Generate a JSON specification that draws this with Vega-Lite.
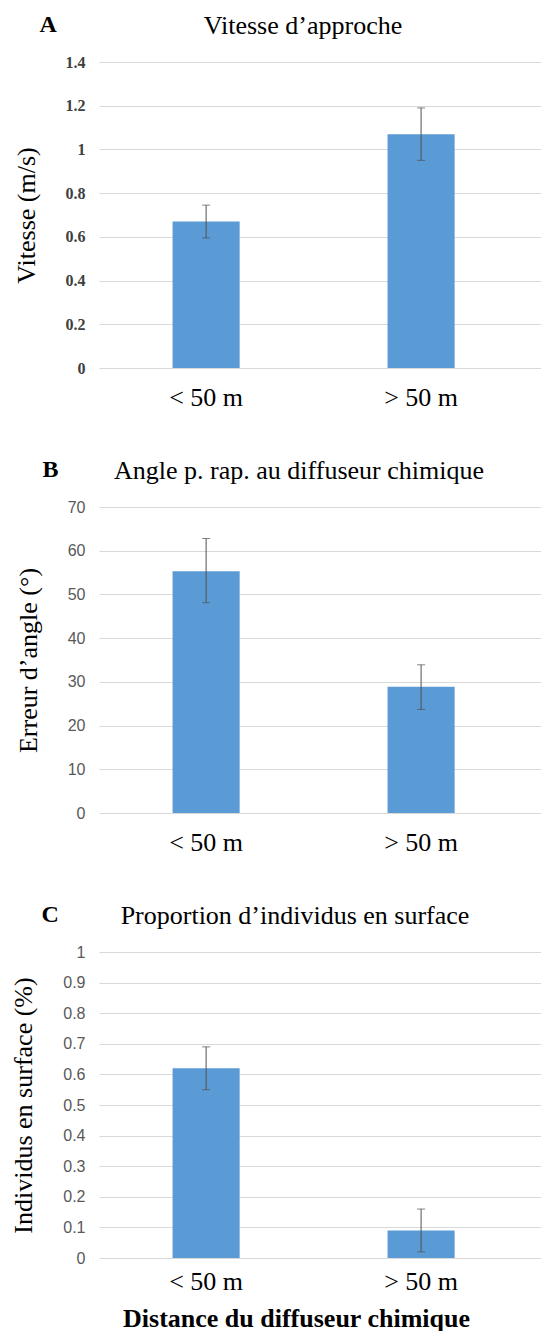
{
  "$schema": "https://vega.github.io/schema/vega-lite/v6.json",
  "padding": {"left": 10, "top": 12, "right": 0, "bottom": 0},
  "spacing": 47,
  "config": {
    "view": {"stroke": null},
    "axis": {"gridColor": "#d9d9d9", "gridWidth": 1, "domain": false, "ticks": false},
    "title": {"font": "Liberation Serif", "fontSize": 26, "fontWeight": "normal", "color": "#000", "anchor": "middle", "frame": "group", "baseline": "alphabetic", "offset": -27}
  },
  "vconcat": [
    {
      "title": {"text": "Vitesse d’approche", "dx": -17},
      "width": 442,
      "height": 306,
      "data": {"values": [
        {"cat": "< 50 m", "value": 0.67, "lo": 0.595, "hi": 0.745},
        {"cat": "> 50 m", "value": 1.07, "lo": 0.95, "hi": 1.19}
      ]},
      "resolve": {"axis": {"x": "independent"}},
      "layer": [
        {"mark": {"type": "bar", "color": "#5b9bd5"},
         "encoding": {
           "x": {"field": "cat", "type": "nominal", "sort": null,
                 "scale": {"paddingInner": 0.688, "paddingOuter": 0.372, "align": 0.46},
                 "axis": {"orient": "bottom", "title": null, "labelAngle": 0, "labelFont": "Liberation Serif", "labelFontSize": 26, "labelColor": "#000", "labelPadding": 16}},
           "y": {"field": "value", "type": "quantitative", "scale": {"domain": [0, 1.4]},
             "axis": {"title": "Vitesse (m/s)", "values": [0, 0.2, 0.4, 0.6, 0.8, 1, 1.2, 1.4], "format": "~g", "labelOverlap": false,
                      "labelFont": "Liberation Serif", "labelFontSize": 16, "labelFontWeight": "bold", "labelColor": "#404040", "labelPadding": 14,
                      "titleFont": "Liberation Serif", "titleFontSize": 26, "titleFontWeight": "normal", "titleColor": "#000", "titlePadding": 26}}}},
        {"mark": {"type": "rule", "color": "#505050", "strokeWidth": 1},
         "encoding": {
           "x": {"field": "cat", "type": "nominal", "sort": null,
                 "axis": {"orient": "top", "title": "A", "labels": false, "grid": false, "titleAnchor": "start", "titleAlign": "left", "titleBaseline": "alphabetic", "titleX": -60, "titleY": -31,
                          "titleFont": "Liberation Serif", "titleFontSize": 24, "titleFontWeight": "bold", "titleColor": "#000"}},
           "y": {"field": "lo", "type": "quantitative",
             "axis": {"title": "Vitesse (m/s)", "values": [0, 0.2, 0.4, 0.6, 0.8, 1, 1.2, 1.4], "format": "~g", "labelOverlap": false,
                      "labelFont": "Liberation Serif", "labelFontSize": 16, "labelFontWeight": "bold", "labelColor": "#404040", "labelPadding": 14,
                      "titleFont": "Liberation Serif", "titleFontSize": 26, "titleFontWeight": "normal", "titleColor": "#000", "titlePadding": 26}},
           "y2": {"field": "hi"}}},
        {"mark": {"type": "tick", "color": "#505050", "thickness": 1, "size": 8},
         "encoding": {"x": {"field": "cat", "type": "nominal", "sort": null, "axis": null},
           "y": {"field": "lo", "type": "quantitative",
             "axis": {"title": "Vitesse (m/s)", "values": [0, 0.2, 0.4, 0.6, 0.8, 1, 1.2, 1.4], "format": "~g", "labelOverlap": false,
                      "labelFont": "Liberation Serif", "labelFontSize": 16, "labelFontWeight": "bold", "labelColor": "#404040", "labelPadding": 14,
                      "titleFont": "Liberation Serif", "titleFontSize": 26, "titleFontWeight": "normal", "titleColor": "#000", "titlePadding": 26}}}},
        {"mark": {"type": "tick", "color": "#505050", "thickness": 1, "size": 8},
         "encoding": {"x": {"field": "cat", "type": "nominal", "sort": null, "axis": null},
           "y": {"field": "hi", "type": "quantitative",
             "axis": {"title": "Vitesse (m/s)", "values": [0, 0.2, 0.4, 0.6, 0.8, 1, 1.2, 1.4], "format": "~g", "labelOverlap": false,
                      "labelFont": "Liberation Serif", "labelFontSize": 16, "labelFontWeight": "bold", "labelColor": "#404040", "labelPadding": 14,
                      "titleFont": "Liberation Serif", "titleFontSize": 26, "titleFontWeight": "normal", "titleColor": "#000", "titlePadding": 26}}}}
      ]
    },
    {
      "title": {"text": "Angle p. rap. au diffuseur chimique", "dx": -21},
      "width": 442,
      "height": 306,
      "data": {"values": [
        {"cat": "< 50 m", "value": 55.3, "lo": 48.1, "hi": 62.8},
        {"cat": "> 50 m", "value": 28.9, "lo": 23.7, "hi": 33.9}
      ]},
      "resolve": {"axis": {"x": "independent"}},
      "layer": [
        {"mark": {"type": "bar", "color": "#5b9bd5"},
         "encoding": {
           "x": {"field": "cat", "type": "nominal", "sort": null,
                 "scale": {"paddingInner": 0.688, "paddingOuter": 0.372, "align": 0.46},
                 "axis": {"orient": "bottom", "title": null, "labelAngle": 0, "labelFont": "Liberation Serif", "labelFontSize": 26, "labelColor": "#000", "labelPadding": 16}},
           "y": {"field": "value", "type": "quantitative", "scale": {"domain": [0, 70]},
             "axis": {"title": "Erreur d’angle (°)", "values": [0, 10, 20, 30, 40, 50, 60, 70], "labelOverlap": false,
                      "labelFont": "Liberation Sans", "labelFontSize": 16, "labelColor": "#595959", "labelPadding": 14,
                      "titleFont": "Liberation Serif", "titleFontSize": 26, "titleFontWeight": "normal", "titleColor": "#000", "titlePadding": 26}}}},
        {"mark": {"type": "rule", "color": "#505050", "strokeWidth": 1},
         "encoding": {
           "x": {"field": "cat", "type": "nominal", "sort": null,
                 "axis": {"orient": "top", "title": "B", "labels": false, "grid": false, "titleAnchor": "start", "titleAlign": "left", "titleBaseline": "alphabetic", "titleX": -57, "titleY": -31,
                          "titleFont": "Liberation Serif", "titleFontSize": 24, "titleFontWeight": "bold", "titleColor": "#000"}},
           "y": {"field": "lo", "type": "quantitative",
             "axis": {"title": "Erreur d’angle (°)", "values": [0, 10, 20, 30, 40, 50, 60, 70], "labelOverlap": false,
                      "labelFont": "Liberation Sans", "labelFontSize": 16, "labelColor": "#595959", "labelPadding": 14,
                      "titleFont": "Liberation Serif", "titleFontSize": 26, "titleFontWeight": "normal", "titleColor": "#000", "titlePadding": 26}},
           "y2": {"field": "hi"}}},
        {"mark": {"type": "tick", "color": "#505050", "thickness": 1, "size": 8},
         "encoding": {"x": {"field": "cat", "type": "nominal", "sort": null, "axis": null},
           "y": {"field": "lo", "type": "quantitative",
             "axis": {"title": "Erreur d’angle (°)", "values": [0, 10, 20, 30, 40, 50, 60, 70], "labelOverlap": false,
                      "labelFont": "Liberation Sans", "labelFontSize": 16, "labelColor": "#595959", "labelPadding": 14,
                      "titleFont": "Liberation Serif", "titleFontSize": 26, "titleFontWeight": "normal", "titleColor": "#000", "titlePadding": 26}}}},
        {"mark": {"type": "tick", "color": "#505050", "thickness": 1, "size": 8},
         "encoding": {"x": {"field": "cat", "type": "nominal", "sort": null, "axis": null},
           "y": {"field": "hi", "type": "quantitative",
             "axis": {"title": "Erreur d’angle (°)", "values": [0, 10, 20, 30, 40, 50, 60, 70], "labelOverlap": false,
                      "labelFont": "Liberation Sans", "labelFontSize": 16, "labelColor": "#595959", "labelPadding": 14,
                      "titleFont": "Liberation Serif", "titleFontSize": 26, "titleFontWeight": "normal", "titleColor": "#000", "titlePadding": 26}}}}
      ]
    },
    {
      "title": {"text": "Proportion d’individus en surface", "dx": -25},
      "width": 442,
      "height": 306,
      "data": {"values": [
        {"cat": "< 50 m", "value": 0.62, "lo": 0.55, "hi": 0.69},
        {"cat": "> 50 m", "value": 0.09, "lo": 0.02, "hi": 0.16}
      ]},
      "resolve": {"axis": {"x": "independent"}},
      "layer": [
        {"mark": {"type": "bar", "color": "#5b9bd5"},
         "encoding": {
           "x": {"field": "cat", "type": "nominal", "sort": null,
                 "scale": {"paddingInner": 0.688, "paddingOuter": 0.372, "align": 0.46},
                 "axis": {"orient": "bottom", "title": "Distance du diffuseur chimique", "labelAngle": 0, "labelFont": "Liberation Serif", "labelFontSize": 26, "labelColor": "#000", "labelPadding": 10,
                          "titleFont": "Liberation Serif", "titleFontSize": 26, "titleFontWeight": "bold", "titleColor": "#000", "titlePadding": 11, "titleX": 197}},
           "y": {"field": "value", "type": "quantitative", "scale": {"domain": [0, 1]},
             "axis": {"title": "Individus en surface (%)", "values": [0, 0.1, 0.2, 0.3, 0.4, 0.5, 0.6, 0.7, 0.8, 0.9, 1], "format": "~g", "labelOverlap": false,
                      "labelFont": "Liberation Sans", "labelFontSize": 16, "labelColor": "#595959", "labelPadding": 14,
                      "titleFont": "Liberation Serif", "titleFontSize": 26, "titleFontWeight": "normal", "titleColor": "#000", "titlePadding": 26}}}},
        {"mark": {"type": "rule", "color": "#505050", "strokeWidth": 1},
         "encoding": {
           "x": {"field": "cat", "type": "nominal", "sort": null,
                 "axis": {"orient": "top", "title": "C", "labels": false, "grid": false, "titleAnchor": "start", "titleAlign": "left", "titleBaseline": "alphabetic", "titleX": -58, "titleY": -31,
                          "titleFont": "Liberation Serif", "titleFontSize": 24, "titleFontWeight": "bold", "titleColor": "#000"}},
           "y": {"field": "lo", "type": "quantitative",
             "axis": {"title": "Individus en surface (%)", "values": [0, 0.1, 0.2, 0.3, 0.4, 0.5, 0.6, 0.7, 0.8, 0.9, 1], "format": "~g", "labelOverlap": false,
                      "labelFont": "Liberation Sans", "labelFontSize": 16, "labelColor": "#595959", "labelPadding": 14,
                      "titleFont": "Liberation Serif", "titleFontSize": 26, "titleFontWeight": "normal", "titleColor": "#000", "titlePadding": 26}},
           "y2": {"field": "hi"}}},
        {"mark": {"type": "tick", "color": "#505050", "thickness": 1, "size": 8},
         "encoding": {"x": {"field": "cat", "type": "nominal", "sort": null, "axis": null},
           "y": {"field": "lo", "type": "quantitative",
             "axis": {"title": "Individus en surface (%)", "values": [0, 0.1, 0.2, 0.3, 0.4, 0.5, 0.6, 0.7, 0.8, 0.9, 1], "format": "~g", "labelOverlap": false,
                      "labelFont": "Liberation Sans", "labelFontSize": 16, "labelColor": "#595959", "labelPadding": 14,
                      "titleFont": "Liberation Serif", "titleFontSize": 26, "titleFontWeight": "normal", "titleColor": "#000", "titlePadding": 26}}}},
        {"mark": {"type": "tick", "color": "#505050", "thickness": 1, "size": 8},
         "encoding": {"x": {"field": "cat", "type": "nominal", "sort": null, "axis": null},
           "y": {"field": "hi", "type": "quantitative",
             "axis": {"title": "Individus en surface (%)", "values": [0, 0.1, 0.2, 0.3, 0.4, 0.5, 0.6, 0.7, 0.8, 0.9, 1], "format": "~g", "labelOverlap": false,
                      "labelFont": "Liberation Sans", "labelFontSize": 16, "labelColor": "#595959", "labelPadding": 14,
                      "titleFont": "Liberation Serif", "titleFontSize": 26, "titleFontWeight": "normal", "titleColor": "#000", "titlePadding": 26}}}}
      ]
    }
  ]
}
